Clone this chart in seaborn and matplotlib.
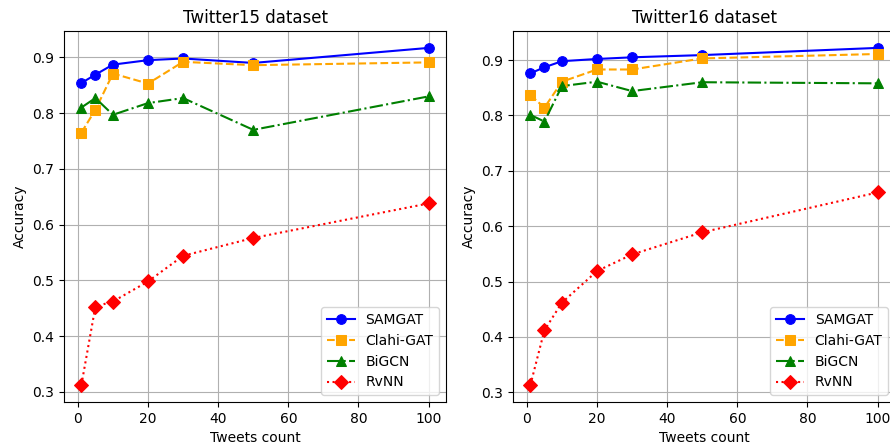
import matplotlib
matplotlib.use("Agg")
import matplotlib.pyplot as plt
import seaborn as sns
import pandas as pd

tweets = [1, 5, 10, 20, 30, 50, 100]
models = ["SAMGAT", "Clahi-GAT", "BiGCN", "RvNN"]

t15_samgat = [0.854, 0.869, 0.887, 0.895, 0.898, 0.890, 0.917]
t15_clahi = [0.765, 0.806, 0.871, 0.853, 0.892, 0.886, 0.891]
t15_bigcn = [0.810, 0.827, 0.797, 0.818, 0.827, 0.770, 0.830]
t15_rvnn = [0.312, 0.453, 0.462, 0.498, 0.544, 0.576, 0.638]

t16_samgat = [0.876, 0.887, 0.898, 0.902, 0.905, 0.909, 0.922]
t16_clahi = [0.837, 0.814, 0.861, 0.883, 0.883, 0.903, 0.911]
t16_bigcn = [0.801, 0.789, 0.853, 0.861, 0.844, 0.860, 0.858]
t16_rvnn = [0.313, 0.412, 0.462, 0.519, 0.549, 0.589, 0.661]

datasets = {
    "Twitter15 dataset": [t15_samgat, t15_clahi, t15_bigcn, t15_rvnn],
    "Twitter16 dataset": [t16_samgat, t16_clahi, t16_bigcn, t16_rvnn],
}

colors = ["blue", "orange", "green", "red"]
markers = ["o", "s", "^", "D"]
styles = ["-", "--", "-.", ":"]

plt.rcParams["font.family"] = ["DejaVu Sans"]
fig = plt.figure(figsize=(8.9, 4.44), dpi=100)
axes = [
    fig.add_axes([64 / 890, 0.0946, 382 / 890, 0.8355]),
    fig.add_axes([513 / 890, 0.0946, 382 / 890, 0.8355]),
]

for ax, (title, series) in zip(axes, datasets.items()):
    for name, vals, c, m, ls in zip(models, series, colors, markers, styles):
        df = pd.DataFrame({"x": tweets, "y": vals})
        sns.lineplot(data=df, x="x", y="y", ax=ax, color=c, marker=m,
                     linestyle=ls, markersize=7, markeredgecolor=c,
                     linewidth=1.5, label=name)
    ax.set_title(title, fontsize=12)
    ax.set_xlabel("Tweets count", fontsize=10)
    ax.set_ylabel("Accuracy", fontsize=10)
    ax.grid(True, color="#b0b0b0", linewidth=0.8)
    ax.legend(loc="lower right", fontsize=10)

fig.savefig("out.png", dpi=100)
